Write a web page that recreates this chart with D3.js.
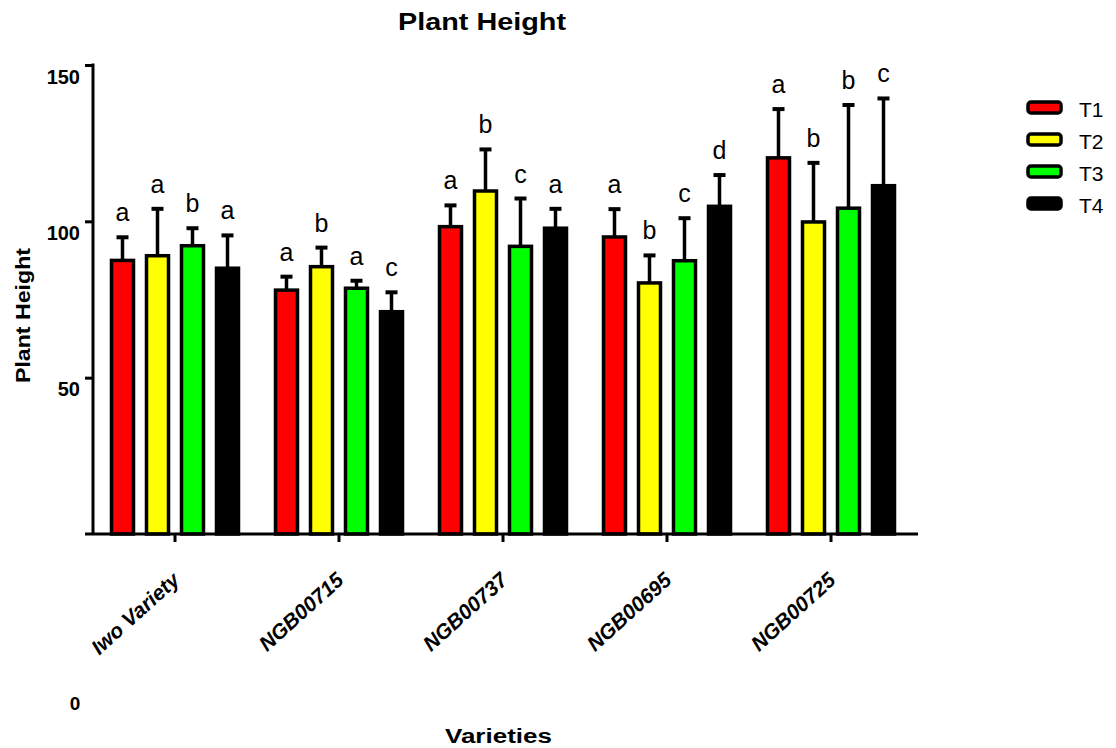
<!DOCTYPE html>
<html>
<head>
<meta charset="utf-8">
<script src="https://cdn.jsdelivr.net/npm/d3@7"></script>
<style>
  body { margin: 0; background: white; }
  text { font-family: "Liberation Sans", Arial, sans-serif; }
</style>
</head>
<body>
<div id="chart"></div>
<script>
const width = 1116;
const height = 748;

const varieties = ["Iwo Variety", "NGB00715", "NGB00737", "NGB00695", "NGB00725"];
const treatments = ["T1", "T2", "T3", "T4"];
const colors = ["#ff0000", "#ffff00", "#00ff00", "#000000"];

// means per treatment, one value per variety
const t1 = [87.5, 78.0, 98.3, 95.0, 120.3];
const t2 = [89.0, 85.5, 109.7, 80.3, 99.8];
const t3 = [92.2, 78.6, 92.0, 87.4, 104.2];
const t4 = [85.0, 71.1, 97.8, 104.8, 111.4];

// upper error (SEM) per treatment
const t1Err = [7.4, 4.3, 6.8, 8.9, 15.6];
const t2Err = [15.0, 6.1, 13.3, 8.8, 18.9];
const t3Err = [5.6, 2.4, 15.3, 13.6, 33.0];
const t4Err = [10.5, 6.2, 6.2, 10.0, 27.9];

// significance letters
const t1Sig = ["a", "a", "a", "a", "a"];
const t2Sig = ["a", "b", "b", "b", "b"];
const t3Sig = ["b", "a", "c", "c", "b"];
const t4Sig = ["a", "c", "a", "d", "c"];

const yTicks = [50, 100, 150];

main();

function main() {
  const means = [t1, t2, t3, t4];
  const errs = [t1Err, t2Err, t3Err, t4Err];
  const sigs = [t1Sig, t2Sig, t3Sig, t4Sig];

  const rows = [];
  varieties.forEach((v, i) => {
    treatments.forEach((t, j) => {
      rows.push({variety: v, treatment: t, mean: means[j][i], err: errs[j][i], sig: sigs[j][i], color: colors[j]});
    });
  });

  const svg = d3.select("#chart").append("svg")
    .attr("width", width)
    .attr("height", height);

  const x0 = d3.scaleBand().domain(varieties).range([93, 913]);
  const x1 = d3.scaleBand().domain(treatments).range([0, 140]).paddingInner(0.2857).paddingOuter(0.1428);
  const y = d3.scaleLinear().domain([0, 150]).range([534, 65]);

  const gx = v => x0(v) + x0.bandwidth() / 2 - 70;

  // error bars (drawn under the bars)
  const eb = svg.append("g");
  rows.forEach(d => {
    const cx = gx(d.variety) + x1(d.treatment) + x1.bandwidth() / 2;
    eb.append("line")
      .attr("x1", cx).attr("x2", cx)
      .attr("y1", y(d.mean)).attr("y2", y(d.mean + d.err))
      .attr("stroke", "black").attr("stroke-width", 3.5);
    eb.append("line")
      .attr("x1", cx - 6).attr("x2", cx + 6)
      .attr("y1", y(d.mean + d.err)).attr("y2", y(d.mean + d.err))
      .attr("stroke", "black").attr("stroke-width", 4);
  });

  // bars
  svg.append("g").selectAll("rect")
    .data(rows)
    .join("rect")
    .attr("x", d => gx(d.variety) + x1(d.treatment) + 1.5)
    .attr("y", d => y(d.mean))
    .attr("width", x1.bandwidth() - 3)
    .attr("height", d => y(0) - y(d.mean))
    .attr("fill", d => d.color)
    .attr("stroke", "black")
    .attr("stroke-width", 3.5);

  // letters
  svg.append("g").selectAll("text")
    .data(rows)
    .join("text")
    .attr("x", d => gx(d.variety) + x1(d.treatment) + x1.bandwidth() / 2)
    .attr("y", d => y(d.mean + d.err) - 16)
    .attr("text-anchor", "middle")
    .style("font-size", "25px")
    .text(d => d.sig);

  // y axis
  const yAxis = svg.append("g")
    .attr("transform", "translate(93,0)")
    .call(d3.axisLeft(y).tickValues(yTicks).tickSize(8).tickPadding(5));
  yAxis.select(".domain").remove();
  yAxis.append("line")
    .attr("x1", 0).attr("x2", 0)
    .attr("y1", y(150) - 1.5).attr("y2", y(0))
    .attr("stroke", "black").attr("stroke-width", 3);
  yAxis.selectAll(".tick line").attr("stroke-width", 3);
  yAxis.selectAll(".tick text")
    .attr("dy", "0.9em")
    .style("font-size", "20px")
    .style("font-weight", "bold")
    .attr("fill", "black");

  // x axis
  const xAxis = svg.append("g")
    .attr("transform", `translate(0,${y(0)})`)
    .call(d3.axisBottom(x0).tickSize(8).tickSizeOuter(0).tickFormat(""));
  xAxis.select(".domain").remove();
  xAxis.selectAll(".tick line").attr("stroke-width", 3);
  svg.append("line")
    .attr("x1", 85).attr("x2", 918)
    .attr("y1", y(0)).attr("y2", y(0))
    .attr("stroke", "black").attr("stroke-width", 3);

  svg.append("g").selectAll("text")
    .data(varieties)
    .join("text")
    .attr("transform", d => `translate(${x0(d) + x0.bandwidth() / 2 + 6},${582}) rotate(-42)`)
    .attr("text-anchor", "end")
    .style("font-size", "21px")
    .style("font-weight", "bold")
    .style("font-style", "italic")
    .text(d => d);

  // 0 label placed below, as in the original export
  svg.append("text")
    .attr("x", 75).attr("y", 710)
    .attr("text-anchor", "middle")
    .style("font-size", "19px").style("font-weight", "bold")
    .text("0");

  // titles
  svg.append("text")
    .attr("x", 398).attr("y", 30)
    .attr("textLength", 168).attr("lengthAdjust", "spacingAndGlyphs")
    .style("font-size", "23px").style("font-weight", "bold")
    .text("Plant Height");

  svg.append("text")
    .attr("transform", "translate(30,383) rotate(-90)")
    .attr("textLength", 135).attr("lengthAdjust", "spacingAndGlyphs")
    .style("font-size", "21px").style("font-weight", "bold")
    .text("Plant Height");

  svg.append("text")
    .attr("x", 445).attr("y", 743)
    .attr("textLength", 107).attr("lengthAdjust", "spacingAndGlyphs")
    .style("font-size", "20px").style("font-weight", "bold")
    .text("Varieties");

  // legend
  const lg = svg.append("g").attr("transform", "translate(1028,102)");
  treatments.forEach((t, i) => {
    const row = lg.append("g").attr("transform", `translate(0,${i * 32})`);
    row.append("rect")
      .attr("x", 0).attr("y", 0)
      .attr("width", 33).attr("height", 11)
      .attr("rx", 3)
      .attr("fill", colors[i])
      .attr("stroke", "black").attr("stroke-width", 3.5);
    row.append("text")
      .attr("x", 51).attr("y", 15)
      .style("font-size", "21px")
      .text(t);
  });
}
</script>
</body>
</html>
